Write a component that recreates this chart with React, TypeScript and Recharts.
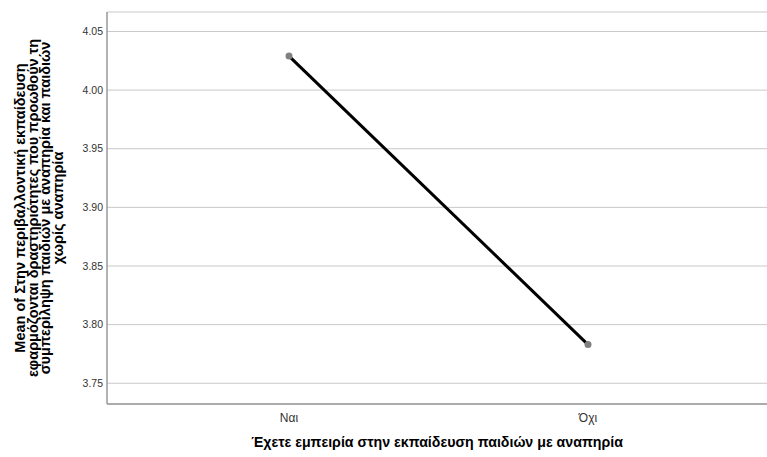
import React from 'react';
import { LineChart, Line, XAxis, YAxis, CartesianGrid } from 'recharts';

const categories = ['Ναι', 'Όχι'];
const means = [4.029, 3.783];
const yTicks = [3.75, 3.8, 3.85, 3.9, 3.95, 4.0, 4.05];
const yLabelLines = [
  'Mean of Στην περιβαλλοντική εκπαίδευση',
  'εφαρμόζονται δραστηριότητες που προωθούν τη',
  'συμπερίληψη παιδιών με αναπηρία και παιδιών',
  'χωρίς αναπηρία',
];
const xTitle = 'Έχετε εμπειρία στην εκπαίδευση παιδιών με αναπηρία';

const data = categories.map((name, i) => ({ name, mean: means[i] }));

const FONT = '"Liberation Sans", Arial, sans-serif';

const YTitle = (props: any) => {
  const { viewBox } = props;
  const cx = 25;
  const cy = viewBox.y + viewBox.height / 2;
  return (
    <text
      x={cx}
      y={cy}
      transform={`rotate(-90, ${cx}, ${cy})`}
      textAnchor="middle"
      fontFamily={FONT}
      fontSize={14.5}
      fontWeight="bold"
      fill="#000"
    >
      {yLabelLines.map((line, i) => (
        <tspan key={i} x={cx} dy={i === 0 ? 0 : 12.5}>
          {line}
        </tspan>
      ))}
    </text>
  );
};

const App: React.FC = () => {
  return (
    <div style={{ position: 'absolute', left: 0, top: 0, background: '#fff' }}>
      <LineChart
        width={767}
        height={457}
        data={data}
        margin={{ top: 12, right: 0, bottom: 23, left: 0 }}
      >
        <CartesianGrid horizontal vertical={false} stroke="#c8c8c8" />
        <XAxis
          dataKey="name"
          height={30}
          padding={{ left: 182, right: 179 }}
          axisLine={{ stroke: '#999', strokeWidth: 1.5 }}
          tickLine={false}
          tickMargin={3}
          tick={{ fontFamily: FONT, fontSize: 12, fill: '#333' }}
          label={{
            value: xTitle,
            position: 'bottom',
            offset: 3,
            fontFamily: FONT,
            fontSize: 14.2,
            fontWeight: 'bold',
            fill: '#000',
          }}
        />
        <YAxis
          width={107}
          domain={[3.7323, 4.0666]}
          ticks={yTicks}
          allowDataOverflow
          tickFormatter={(v: number) => v.toFixed(2)}
          axisLine={{ stroke: '#999', strokeWidth: 1.5 }}
          tickLine={false}
          tickSize={0}
          tickMargin={4}
          tick={{ fontFamily: FONT, fontSize: 10.5, fill: '#333' }}
          label={{ content: YTitle }}
        />
        <Line
          type="linear"
          dataKey="mean"
          stroke="#000"
          strokeWidth={3}
          dot={{ r: 3.5, fill: '#808080', stroke: '#808080', strokeWidth: 0 }}
          isAnimationActive={false}
        />
      </LineChart>
    </div>
  );
};

export default App;
